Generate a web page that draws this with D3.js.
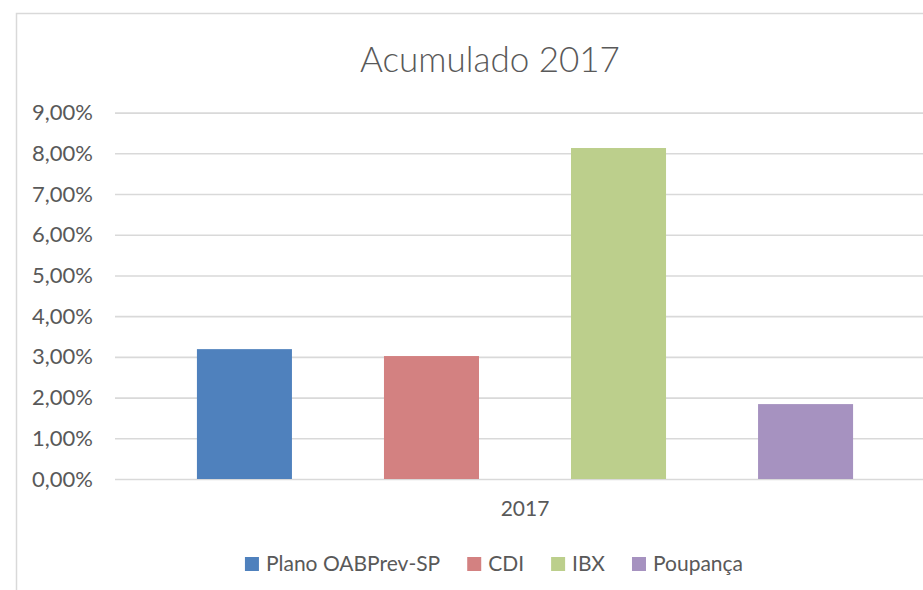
<!DOCTYPE html>
<html><head><meta charset="utf-8">
<script src="https://cdn.jsdelivr.net/npm/d3@7"></script>
<style>body{margin:0;background:#fff}svg{display:block}text{font-family:Lato,"Open Sans",sans-serif;fill:#595959}</style>
</head><body><svg id="c" width="923" height="590"></svg>
<script>
const categories = ["2017"];
const series = ["Plano OABPrev-SP", "CDI", "IBX", "Poupança"];
const values = [0.0319, 0.0302, 0.0813, 0.0184];
const yTicks = [0,0.01,0.02,0.03,0.04,0.05,0.06,0.07,0.08,0.09];
const colors = ["#4f81bd", "#d38181", "#bccf8c", "#a692c0"];
const title = "Acumulado 2017";

const svg = d3.select("#c");
svg.append("rect").attr("x",0).attr("y",0).attr("width",923).attr("height",590).attr("fill","#fff");
svg.append("rect").attr("x",16.5).attr("y",13.5).attr("width",960).attr("height",620)
  .attr("fill","none").attr("stroke","#d9d9d9").attr("stroke-width",1.5);

const y = d3.scaleLinear().domain([0,0.09]).range([479,112.6]);
const x0 = d3.scaleBand().domain(categories).range([115,935]).paddingInner(0).paddingOuter(0.048);
const x1 = d3.scaleBand().domain(series).range([0,x0.bandwidth()]).paddingInner(0.492).paddingOuter(0.246);

const fmt = v => d3.format(".2f")(v*100).replace(".",",")+"%";
const yAxis = d3.axisLeft(y).tickValues(yTicks).tickSize(-(935-115)).tickPadding(22).tickFormat(fmt);
const ga = svg.append("g").attr("transform","translate(115,0)").call(yAxis);
ga.select(".domain").remove();
ga.selectAll(".tick line").attr("stroke","#d9d9d9").attr("stroke-width",1.6);
ga.selectAll(".tick text").attr("font-size",22).style("font-family","Lato").attr("fill","#595959");

const g = svg.append("g");
g.selectAll("rect.bar").data(values).join("rect").attr("class","bar")
  .attr("x",(d,i)=>x0(categories[0])+x1(series[i]))
  .attr("width",x1.bandwidth())
  .attr("y",d=>y(d)).attr("height",d=>y(0)-y(d))
  .attr("fill",(d,i)=>colors[i]);

const xAxis = d3.axisBottom(x0).tickSize(0).tickPadding(22);
const gx = svg.append("g").attr("transform","translate(0,479)").call(xAxis);
gx.select(".domain").remove();
gx.selectAll(".tick text").attr("font-size",21).style("font-family","Lato").attr("fill","#595959");

svg.append("text").attr("x",490).attr("y",72).attr("text-anchor","middle")
  .attr("font-size",35).attr("font-weight",300).text(title);

// legend
const lg = svg.append("g");
const items = lg.selectAll("g").data(series).join("g");
items.append("rect").attr("width",14).attr("height",14).attr("y",-7).attr("fill",(d,i)=>colors[i]);
items.append("text").attr("x",21).attr("y",0).attr("dy","0.35em").attr("font-size",21).text(d=>d);
let xpos = 0;
items.each(function(){
  const w = d3.select(this).select("text").node().getComputedTextLength();
  d3.select(this).attr("transform",`translate(${xpos},0)`);
  xpos += 21+w+27;
});
const total = xpos-27;
lg.attr("transform",`translate(${494-total/2},564)`);
</script></body></html>
